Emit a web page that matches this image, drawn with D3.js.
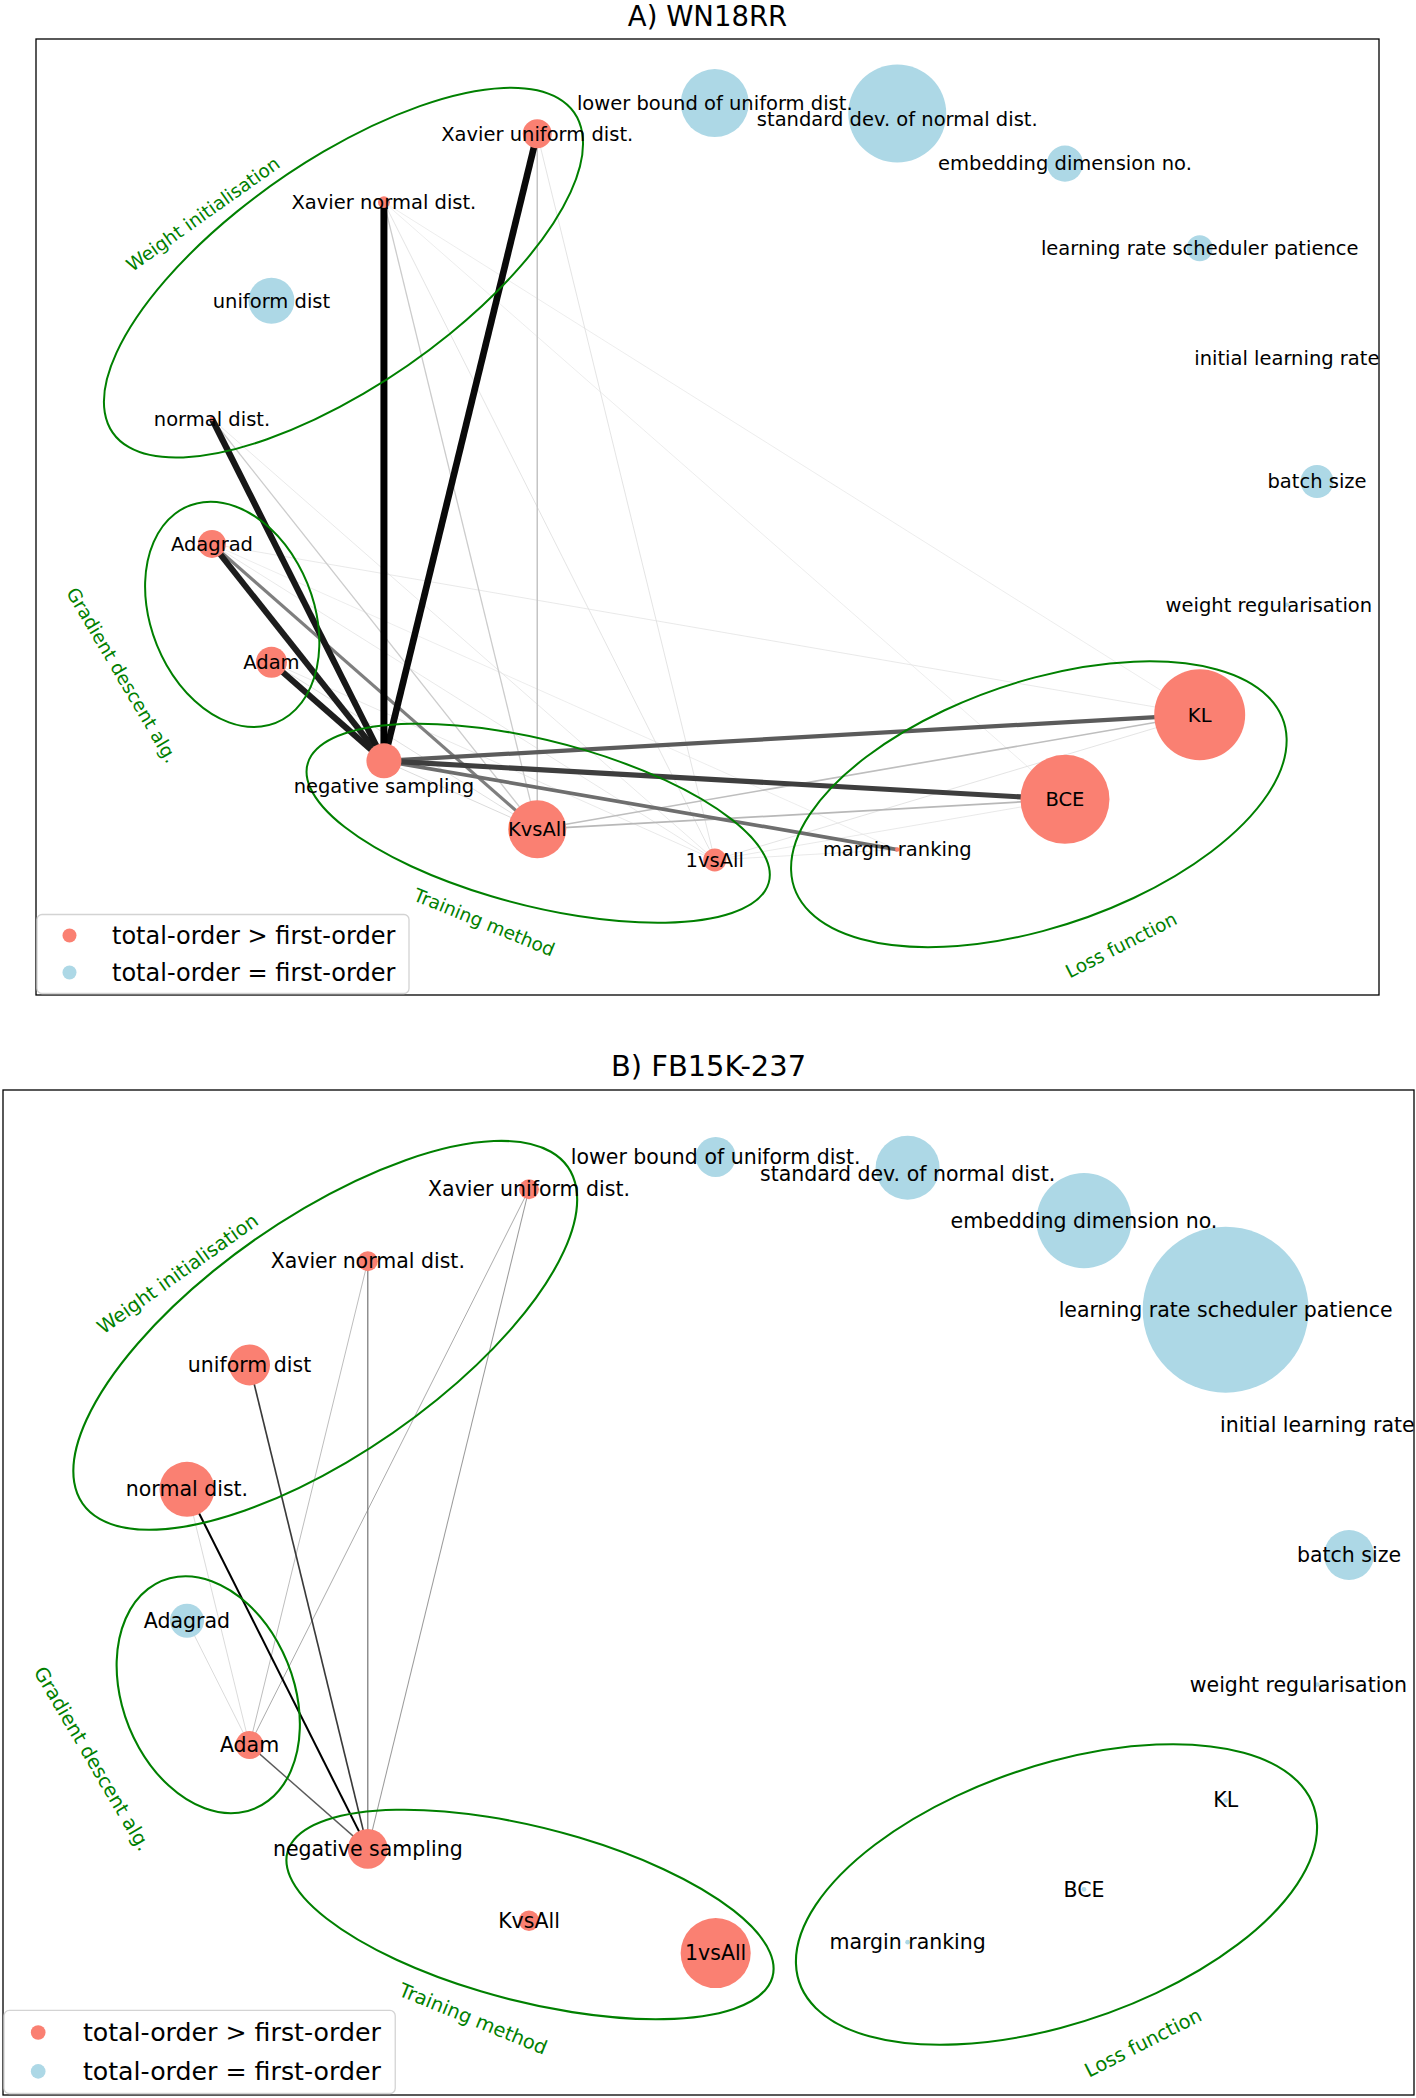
<!DOCTYPE html>
<html><head><meta charset="utf-8">
<script src="https://cdn.jsdelivr.net/npm/d3@7"></script>
<style>
html,body{margin:0;padding:0;background:#fff;}
svg{display:block;}
text{font-family:"DejaVu Sans", sans-serif;}
</style></head><body>
<svg id="chart" width="1416" height="2098"></svg>
<script>
// ---------------- DATA ----------------
// hyper-parameters, in circular-layout order (counter-clockwise from angle 0)
const nodeNames = ["batch size","initial learning rate","learning rate scheduler patience",
  "embedding dimension no.","standard dev. of normal dist.","lower bound of uniform dist.",
  "Xavier uniform dist.","Xavier normal dist.","uniform dist","normal dist.","Adagrad","Adam",
  "negative sampling","KvsAll","1vsAll","margin ranking","BCE","KL","weight regularisation"];

// total-order index (node area) per dataset
const totalOrderA = [0.109,0.002,0.068,0.130,0.960,0.462,0.084,0.014,0.212,0.002,0.078,0.096,0.1225,0.336,0.053,0.002,0.792,0.828,0.002];
const totalOrderB = [0.226,0.002,2.490,0.817,0.370,0.144,0.036,0.036,0.152,0.273,0.105,0.071,0.144,0.038,0.444,0.002,0.002,0.002,0.002];

// total-order > first-order ?
const interactsA = [0,0,0,0,0,0,1,1,0,1,1,1,1,1,1,1,1,1,0];
const interactsB = [0,0,0,0,0,0,1,1,1,1,0,1,1,1,1,0,0,0,0];

// second-order interactions: [node, node, index]
const edgesA = [
  ["Xavier normal dist.","negative sampling",1.0],
  ["Xavier uniform dist.","negative sampling",0.95],
  ["normal dist.","negative sampling",0.88],
  ["Adagrad","negative sampling",0.85],
  ["Adam","negative sampling",0.85],
  ["negative sampling","BCE",0.70],
  ["negative sampling","KL",0.57],
  ["negative sampling","margin ranking",0.48],
  ["Adagrad","KvsAll",0.40],
  ["KvsAll","BCE",0.18],
  ["KvsAll","KL",0.16],
  ["Xavier uniform dist.","KvsAll",0.14],
  ["normal dist.","KvsAll",0.11],
  ["Xavier normal dist.","KvsAll",0.11],
  ["negative sampling","KvsAll",0.06],
  ["Adam","KvsAll",0.05],
  ["Xavier normal dist.","1vsAll",0.04],
  ["Xavier uniform dist.","1vsAll",0.04],
  ["normal dist.","1vsAll",0.03],
  ["Adagrad","1vsAll",0.03],
  ["Adagrad","margin ranking",0.02],
  ["Adam","1vsAll",0.03],
  ["Xavier normal dist.","KL",0.02],
  ["Xavier normal dist.","BCE",0.02],
  ["Adagrad","KL",0.03],
  ["1vsAll","margin ranking",0.03],
  ["1vsAll","BCE",0.03],
  ["1vsAll","KL",0.04]
];
const edgesB = [
  ["normal dist.","negative sampling",0.21],
  ["uniform dist","negative sampling",0.15],
  ["Adam","negative sampling",0.12],
  ["Xavier normal dist.","negative sampling",0.09],
  ["Xavier uniform dist.","negative sampling",0.06],
  ["Xavier uniform dist.","Adam",0.05],
  ["Xavier normal dist.","Adam",0.04],
  ["normal dist.","Adam",0.02],
  ["Adagrad","Adam",0.02]
];

// group annotations (data units of the layout)
const groupNames = ["Weight initialisation","Gradient descent alg.","Training method","Loss function"];
const groupEllipses = [ // [cx, cy, width, height, angle]
  [-0.75, 0.55, 1.2, 0.5, 50],
  [-0.95,-0.35, 0.3, 0.6, 10],
  [-0.40,-0.90, 0.89,0.42,-23.6],
  [ 0.50,-0.85, 1.0, 0.6, 34.6]
];
const groupLabelPos = [ // [x, y, rotation]
  [-1.0025, 0.7045,-35.4],
  [-1.148,-0.51, 59.5],
  [-0.497,-1.161, 22.2],
  [ 0.648,-1.221,-27]
];

const legendLabels = ["total-order > first-order","total-order = first-order"];
const titles = ["A) WN18RR","B) FB15K-237"];

// ---------------- DRAW ----------------
const RED = "#FA8072", BLUE = "#ADD8E6";
const svg = d3.select("#chart");

const panels = [
  {key:"A", title:titles[0], frame:[36,39,1379,995], cx:760.7, cy:481.5, rx:556.3, ry:379.7, k:1,
   sizes:totalOrderA, inter:interactsA, edges:edgesA,
   nudges:{"standard dev. of normal dist.":[0,5.5],"weight regularisation":[-18,0],"negative sampling":[0,25]}},
  {key:"B", title:titles[1], frame:[3,1090,1414,2095], cx:764, cy:1555, rx:585, ry:399.4, k:1.0517,
   sizes:totalOrderB, inter:interactsB, edges:edgesB,
   nudges:{"standard dev. of normal dist.":[0,5.5],"weight regularisation":[-18,0]}}
];

const defs = svg.append("defs");

panels.forEach(p => {
  const k = p.k;
  const [fx0,fy0,fx1,fy1] = p.frame;
  const x = d3.scaleLinear().domain([-1,1]).range([p.cx - p.rx, p.cx + p.rx]);
  const y = d3.scaleLinear().domain([-1,1]).range([p.cy + p.ry, p.cy - p.ry]);
  const r = d3.scaleSqrt().domain([0,1]).range([0, 50*k]);
  const n = nodeNames.length;
  const nodes = nodeNames.map((name,i) => ({
    name, ux:Math.cos(2*Math.PI*i/n), uy:Math.sin(2*Math.PI*i/n),
    size:p.sizes[i], inter:p.inter[i]
  }));
  const byName = new Map(nodes.map(d => [d.name, d]));

  const g = svg.append("g");

  // title
  g.append("text").attr("x",(fx0+fx1)/2).attr("y",fy0 - 13*k)
    .attr("text-anchor","middle").attr("font-size",27.5*k).attr("fill","#000").text(p.title);

  const clipId = "clip"+p.key;
  defs.append("clipPath").attr("id",clipId).append("rect")
    .attr("x",fx0).attr("y",fy0).attr("width",fx1-fx0).attr("height",fy1-fy0);
  const plot = g.append("g").attr("clip-path",`url(#${clipId})`);

  // edges
  const maxW = d3.max(p.edges, e => e[2]);
  const widthScale = d3.scaleLinear().domain([0,1]).range([0.6,7]);
  const edges = p.edges.slice().sort((a,b) => a[2]-b[2]);
  plot.append("g").selectAll("line").data(edges).join("line")
    .attr("x1", e => x(byName.get(e[0]).ux)).attr("y1", e => y(byName.get(e[0]).uy))
    .attr("x2", e => x(byName.get(e[1]).ux)).attr("y2", e => y(byName.get(e[1]).uy))
    .attr("stroke", e => d3.interpolateGreys(0.12 + 0.88*Math.pow(e[2]/maxW, 0.7)))
    .attr("stroke-width", e => widthScale(e[2])*k);

  // nodes
  plot.append("g").selectAll("circle").data(nodes).join("circle")
    .attr("cx", d => x(d.ux)).attr("cy", d => y(d.uy))
    .attr("r", d => r(d.size))
    .attr("fill", d => d.inter ? RED : BLUE);

  // group ellipses
  const ge = plot.append("g");
  groupEllipses.forEach((e,i) => {
    ge.append("g")
      .attr("transform",`translate(${x(e[0])},${y(e[1])}) scale(${p.rx},${-p.ry}) rotate(${e[4]})`)
      .append("ellipse").attr("rx",e[2]/2).attr("ry",e[3]/2)
      .attr("fill","none").attr("stroke","green").attr("stroke-width",2*k)
      .attr("vector-effect","non-scaling-stroke");
    const lp = groupLabelPos[i];
    ge.append("text")
      .attr("transform",`translate(${x(lp[0])},${y(lp[1])}) rotate(${lp[2]})`)
      .attr("text-anchor","middle").attr("dy","0.35em")
      .attr("font-size",18.5*k).attr("fill","green").text(groupNames[i]);
  });

  // node labels
  plot.append("g").selectAll("text").data(nodes).join("text")
    .attr("x", d => x(d.ux) + ((p.nudges[d.name]||[0,0])[0])*k)
    .attr("y", d => y(d.uy) + ((p.nudges[d.name]||[0,0])[1])*k)
    .attr("dy","0.35em").attr("text-anchor","middle")
    .attr("font-size",19.5*k).attr("fill","#000").text(d => d.name);

  // frame
  g.append("rect").attr("x",fx0).attr("y",fy0).attr("width",fx1-fx0).attr("height",fy1-fy0)
    .attr("fill","none").attr("stroke","#000").attr("stroke-width",1.3);

  // legend
  const lw = 372*k, lh = 79*k;
  const lg = g.append("g").attr("transform",`translate(${fx0+1},${fy1 - lh - 1.5})`);
  lg.append("rect").attr("width",lw).attr("height",lh).attr("rx",5*k)
    .attr("fill","#fff").attr("fill-opacity",0.85).attr("stroke","#d3d3d3").attr("stroke-width",1.3);
  const rows = lg.selectAll("g.row").data(legendLabels).join("g").attr("class","row")
    .attr("transform",(d,i) => `translate(0,${(21 + i*37)*k})`);
  rows.append("circle").attr("cx",32.5*k).attr("cy",0).attr("r",7*k)
    .attr("fill",(d,i) => i===0 ? RED : BLUE);
  rows.append("text").attr("x",75*k).attr("dy","0.35em").attr("font-size",24*k)
    .attr("fill","#000").text(d => d);
});
</script>
</body></html>
